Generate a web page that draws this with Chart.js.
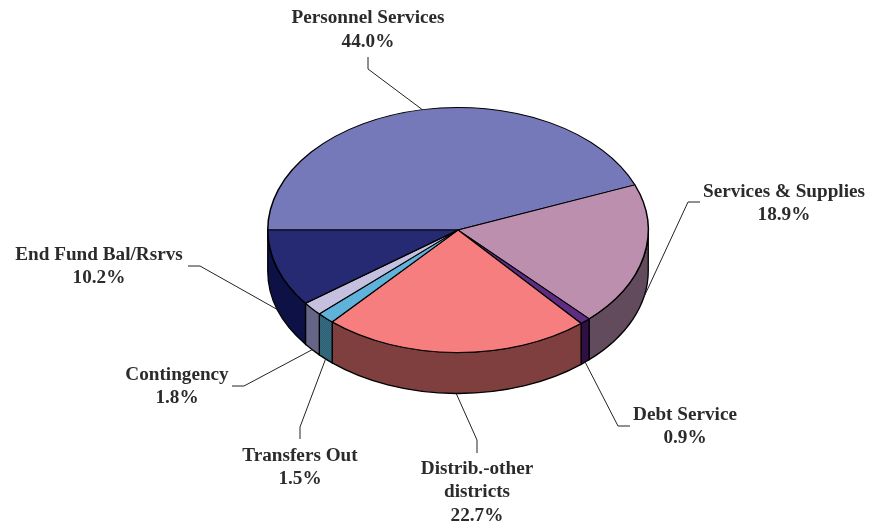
<!DOCTYPE html>
<html>
<head>
<meta charset="utf-8">
<title>Budget by category</title>
<script src="https://cdn.jsdelivr.net/npm/chart.js@4/dist/chart.umd.min.js"></script>
<style>
  html, body { margin: 0; padding: 0; background: #fff; }
  canvas { display: block; }
</style>
</head>
<body>
<canvas id="budgetPie" width="880" height="525"></canvas>
<script>
const categories = ['Personnel Services', 'Services & Supplies', 'Debt Service', 'Distrib.-other districts', 'Transfers Out', 'Contingency', 'End Fund Bal/Rsrvs'];
const shares = [44.0, 18.9, 0.9, 22.7, 1.5, 1.8, 10.2];

const topColors = ['#7679b9', '#bd8fae', '#5f2c85', '#f67e7f', '#5fb3da', '#c5c0e0', '#262a72'];
const sideColors = ['#3b3d5d', '#634b5e', '#300f45', '#7f3f3f', '#2f6478', '#646587', '#0d1145'];

// squash the flat pie into an ellipse and give it a wall this many px tall
const SQUASH = 0.644;
const DEPTH = 41;
const LABEL_FONT = 'bold 19.2px "Liberation Serif", serif';
const LINE_HEIGHT = 23.5;

// text centre + leader elbows for every slice, same order as categories
const labelLayout = [
  { x: 368, y: 18.5, lines: ['Personnel Services'], elbows: [[368, 57], [368, 69]], onTop: true },
  { x: 784, y: 192, lines: ['Services & Supplies'], elbows: [[700, 202], [688, 202]] },
  { x: 685, y: 415, lines: ['Debt Service'], elbows: [[630, 426], [618, 426]] },
  { x: 477, y: 469, lines: ['Distrib.-other', 'districts'], elbows: [[477, 453], [477, 440]] },
  { x: 300, y: 456, lines: ['Transfers Out'], elbows: [[300, 439], [300, 427]] },
  { x: 177, y: 375, lines: ['Contingency'], elbows: [[232, 386], [244, 386]] },
  { x: 99, y: 255, lines: ['End Fund Bal/Rsrvs'], elbows: [[188, 266], [200, 266]] }
];

// the Transfers Out wall has a fine cross-hatch
function hatch(base, dots) {
  const tile = document.createElement('canvas');
  tile.width = tile.height = 2;
  const g = tile.getContext('2d');
  g.fillStyle = base;
  g.fillRect(0, 0, 2, 2);
  g.fillStyle = dots;
  g.fillRect(0, 0, 1, 1);
  g.fillRect(1, 1, 1, 1);
  return g.createPattern(tile, 'repeat');
}

const pie3d = {
  id: 'pie3d',
  beforeDatasetsDraw(chart) {
    const ctx = chart.ctx;
    const arcs = chart.getDatasetMeta(0).data;
    const { x: cx, y: cy, outerRadius: r } = arcs[0];
    const ry = r * SQUASH;

    // only the front half of the pie shows a wall
    arcs.forEach((arc, i) => {
      const a0 = Math.max(arc.startAngle, 0);
      const a1 = Math.min(arc.endAngle, Math.PI);
      if (a1 <= a0) return;
      ctx.beginPath();
      ctx.ellipse(cx, cy, r, ry, 0, a0, a1);
      ctx.ellipse(cx, cy + DEPTH, r, ry, 0, a1, a0, true);
      ctx.closePath();
      ctx.fillStyle = i === 4 ? hatch('#2a5f75', '#3a6d80') : sideColors[i];
      ctx.fill();
      ctx.strokeStyle = '#000';
      ctx.lineWidth = 1.3;
      ctx.stroke();
    });

    ctx.save();
    ctx.translate(cx, cy);
    ctx.scale(1, SQUASH);
    ctx.translate(-cx, -cy);
  },
  afterDatasetsDraw(chart) {
    const ctx = chart.ctx;
    ctx.restore();

    const arcs = chart.getDatasetMeta(0).data;
    arcs.forEach((arc, i) => {
      const layout = labelLayout[i];
      const mid = (arc.startAngle + arc.endAngle) / 2;
      const ax = arc.x + arc.outerRadius * Math.cos(mid);
      const ay = arc.y + arc.outerRadius * SQUASH * Math.sin(mid) + (layout.onTop ? 0 : DEPTH);

      ctx.beginPath();
      ctx.moveTo(layout.elbows[0][0], layout.elbows[0][1]);
      ctx.lineTo(layout.elbows[1][0], layout.elbows[1][1]);
      ctx.lineTo(ax, ay);
      ctx.strokeStyle = '#222';
      ctx.lineWidth = 1;
      ctx.stroke();

      const textLines = layout.lines.concat(shares[i].toFixed(1) + '%');
      ctx.font = LABEL_FONT;
      ctx.fillStyle = '#2b2b2b';
      ctx.textAlign = 'center';
      ctx.textBaseline = 'middle';
      textLines.forEach((line, n) => ctx.fillText(line, layout.x, layout.y + n * LINE_HEIGHT));
    });
  }
};

new Chart(document.getElementById('budgetPie'), {
  type: 'pie',
  data: {
    labels: categories,
    datasets: [{
      data: shares,
      backgroundColor: topColors,
      borderColor: '#000',
      borderWidth: 1.5
    }]
  },
  options: {
    responsive: false,
    animation: false,
    rotation: -90,
    layout: { padding: { left: 267, right: 231, top: 39, bottom: 104 } },
    plugins: { legend: { display: false }, tooltip: { enabled: false } }
  },
  plugins: [pie3d]
});
</script>
</body>
</html>
